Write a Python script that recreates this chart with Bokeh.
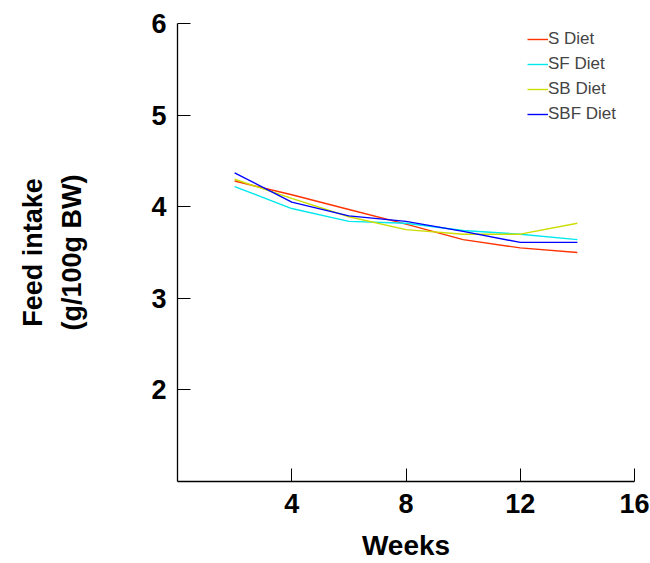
from bokeh.plotting import figure
from bokeh.models import Range1d, FixedTicker, Legend, LegendItem, Title
from bokeh.embed import file_html
from bokeh.resources import INLINE

weeks = [2, 4, 6, 8, 10, 12, 14]
s_diet = [4.28, 4.13, 3.97, 3.81, 3.64, 3.55, 3.50]
sf_diet = [4.22, 3.98, 3.84, 3.82, 3.74, 3.70, 3.64]
sb_diet = [4.30, 4.09, 3.89, 3.75, 3.70, 3.70, 3.82]
sbf_diet = [4.37, 4.05, 3.90, 3.84, 3.73, 3.61, 3.61]

series_names = ["S Diet", "SF Diet", "SB Diet", "SBF Diet"]
series_vals = [s_diet, sf_diet, sb_diet, sbf_diet]
colors = ["#FF3300", "#00E8EE", "#CCDD00", "#0000FF"]

x_ticks = [4, 8, 12, 16]
y_ticks = [2, 3, 4, 5, 6]

FONT = "Liberation Sans"

p = figure(width=650, height=563, output_backend="svg", toolbar_location=None,
           x_range=Range1d(0, 16), y_range=Range1d(1, 6),
           min_border_left=177, min_border_right=16, min_border_top=23,
           min_border_bottom=82)
p.outline_line_color = None
p.grid.visible = False
p.background_fill_color = "white"
p.border_fill_color = "white"

for ax, ticks in ((p.xaxis[0], x_ticks), (p.yaxis[0], y_ticks)):
    ax.ticker = FixedTicker(ticks=ticks)
    ax.major_tick_in = 13
    ax.major_tick_out = 0
    ax.minor_tick_in = 0
    ax.minor_tick_out = 0
    ax.axis_line_color = "black"
    ax.axis_line_width = 1.3
    ax.major_tick_line_color = "black"
    ax.major_tick_line_width = 1
    ax.major_label_text_font = FONT
    ax.major_label_text_font_style = "bold"
    ax.major_label_text_font_size = "27px"
    ax.major_label_text_color = "black"
    ax.axis_label_text_font = FONT
    ax.axis_label_text_font_style = "bold"
    ax.axis_label_text_color = "black"
p.xaxis.major_label_standoff = 12
p.yaxis.major_label_standoff = 11

p.xaxis.axis_label = "Weeks"
p.xaxis.axis_label_text_font_size = "28px"
p.xaxis.axis_label_standoff = 14

p.yaxis.axis_label = "(g/100g BW)"
p.yaxis.axis_label_text_font_size = "27px"
p.yaxis.axis_label_standoff = 61

items = []
for name, vals, c in zip(series_names, series_vals, colors):
    r = p.line(weeks, vals, line_color=c, line_width=1.4)
    items.append(LegendItem(label=name, renderers=[r]))

legend = Legend(items=items, location=(350, 357), border_line_color=None,
                background_fill_alpha=0, label_text_font=FONT,
                label_text_font_size="17px", glyph_width=21, glyph_height=20,
                label_height=20, spacing=5, padding=0, margin=0,
                label_standoff=0)
p.add_layout(legend, "center")

t_outer = Title(text="Feed intake", align="center", text_font=FONT,
                text_font_style="bold", text_font_size="27px",
                text_color="black", standoff=14)
p.add_layout(t_outer, "left")

open("out.html", "w").write(file_html(p, INLINE))
